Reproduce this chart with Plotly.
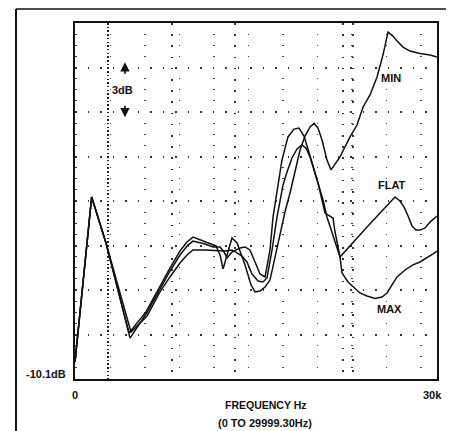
import plotly.graph_objects as go

# ---- data (frequency in kHz, level in dB) ----
min_khz = [0.0, 1.38, 2.57, 4.48, 5.88, 7.04, 7.87, 8.70, 9.28, 9.78, 10.77, 11.69, 12.02, 12.27,
           12.60, 13.01, 13.43, 14.09, 14.59, 14.92, 15.33, 15.75, 16.16, 16.57, 16.99, 17.40,
           17.82, 18.23, 18.65, 19.06, 19.48, 19.81, 20.14, 20.47, 20.88, 21.22, 21.96, 22.79,
           23.37, 23.87, 24.45, 25.03, 25.52, 25.94, 26.35, 26.69, 27.18, 27.76, 28.59, 29.42, 30.0]
min_db = [-8.95, 2.17, -0.93, -7.0, -5.58, -3.83, -2.62, -1.47, -0.86, -0.53, -0.86, -1.13, -1.74, -2.68,
          -1.74, -0.59, -0.93, -2.41, -3.76, -4.23, -4.17, -3.90, -3.43, -1.94, -0.26, 1.16,
          2.44, 3.86, 5.34, 6.28, 6.89, 7.13, 6.82, 6.01, 4.66, 4.0, 4.87, 6.22,
          7.02, 8.24, 9.05, 10.26, 11.74, 13.29, 13.02, 12.69, 12.28, 12.01, 11.84, 11.74, 11.61]

flat_khz = [0.0, 1.38, 2.57, 4.56, 5.88, 7.04, 7.87, 8.70, 9.36, 9.78, 10.77, 11.44, 12.02, 12.35,
            12.60, 13.01, 13.67, 14.09, 14.50, 14.92, 15.33, 15.75, 16.16, 16.41, 16.74, 17.15,
            17.65, 18.15, 18.56, 18.98, 19.48, 19.97, 20.55, 20.88, 21.38, 21.96, 24.20, 26.52,
            26.93, 27.26, 27.60, 27.93, 28.26, 28.59, 29.01, 29.42, 30.0]
flat_db = [-8.95, 2.17, -0.93, -7.34, -5.72, -3.97, -2.82, -1.74, -1.07, -0.80, -1.0, -1.20, -1.20, -1.54,
           -1.94, -1.54, -1.27, -1.20, -1.40, -2.21, -3.02, -3.22, -1.40, 0.82, 2.64, 4.66,
           6.22, 6.75, 6.82, 6.28, 4.93, 3.65, 1.97, 0.82, -0.46, -1.87, 0.15, 2.17,
           1.90, 1.50, 0.89, 0.21, -0.06, -0.06, 0.08, 0.48, 0.89]

max_khz = [0.0, 1.38, 2.57, 4.64, 5.97, 7.04, 7.87, 8.70, 9.28, 9.78, 10.77, 11.60, 12.43, 13.01,
           13.43, 13.84, 14.25, 14.67, 15.17, 15.58, 15.91, 16.33, 16.74, 17.24, 17.57, 17.98,
           18.40, 18.79, 19.14, 19.48, 20.14, 20.72, 21.38, 21.55, 21.96, 22.13, 22.62, 23.04,
           23.62, 24.20, 24.86, 25.44, 25.86, 26.27, 26.69, 27.35, 28.01, 28.59, 29.17, 29.67, 30.0]
max_db = [-8.95, 2.17, -0.93, -6.93, -5.85, -4.23, -3.22, -2.28, -1.74, -1.40, -1.40, -1.44, -1.47, -1.40,
          -1.61, -1.81, -2.21, -3.02, -3.49, -3.56, -3.29, -1.40, 0.82, 2.98, 3.86, 4.80,
          5.41, 5.68, 5.47, 4.87, 3.11, 1.09, 0.75, -0.19, -1.87, -2.95, -3.56, -3.90,
          -4.30, -4.50, -4.67, -4.57, -4.30, -3.76, -3.22, -2.75, -2.41, -2.21, -1.94, -1.67, -1.47]

series = [("MIN", min_khz, min_db), ("FLAT", flat_khz, flat_db), ("MAX", max_khz, max_db)]
label_pos = {"MIN": (26.19, 10.19), "FLAT": (26.27, 2.98), "MAX": (26.10, -5.38)}

x_range = [0.0, 29.9993]
y_range = [-10.1, 13.9]
y_major = [-7.1, -4.1, -1.1, 1.9, 4.9, 7.9, 10.9]
y_minor = [round(-10.1 + 0.75 * i, 2) for i in range(1, 32) if i % 4 != 0]
x_dense = [2.73]
x_cols = [8.0, 13.3, 22.2, 23.0]

FONT = "Liberation Sans, Arial, sans-serif"
INK = "#111111"

fig = go.Figure()
for name, xs, ys in series:
    fig.add_trace(go.Scatter(x=xs, y=ys, mode="lines", name=name,
                             line=dict(color=INK, width=1.5), showlegend=False))

# the page adds an 8px body margin, so the figure is 8px smaller than the window
fig.update_layout(
    width=446, height=423,
    margin=dict(l=67, r=17, t=15, b=52),
    paper_bgcolor="white", plot_bgcolor="white",
    font=dict(family=FONT, color=INK, size=11),
)
fig.update_xaxes(
    range=x_range, showline=True, mirror=True, linecolor=INK, linewidth=1.5,
    tickvals=x_dense, showticklabels=False, ticks="", zeroline=False,
    showgrid=True, gridcolor="#222222", gridwidth=1.5, griddash="1.5px,2.2px",
    minor=dict(tickvals=x_cols, showgrid=True, gridcolor="#333333", gridwidth=1.5,
               griddash="1.5px,9.7px", ticks=""),
)
fig.update_yaxes(
    range=y_range, showline=True, mirror=True, linecolor=INK, linewidth=1.5,
    tickvals=y_major, showticklabels=False, ticks="", zeroline=False,
    showgrid=True, gridcolor="#333333", gridwidth=1.5, griddash="1.5px,11px",
    minor=dict(tickvals=y_minor, showgrid=True, gridcolor="#444444", gridwidth=1.3,
               griddash="1.5px,33px", ticks=""),
)

ann = []
for name, (lx, ly) in label_pos.items():
    ann.append(dict(x=lx, y=ly, xref="x", yref="y", text="<b>" + name + "</b>",
                    showarrow=False, font=dict(size=11)))
ann += [
    dict(x=-0.02, y=0.015, xref="paper", yref="paper", text="<b>-10.1dB</b>",
         xanchor="right", yanchor="middle", showarrow=False, font=dict(size=11)),
    dict(x=0.0, y=-0.045, xref="paper", yref="paper", text="<b>0</b>",
         xanchor="center", yanchor="middle", showarrow=False, font=dict(size=11)),
    dict(x=1.018, y=-0.045, xref="paper", yref="paper", text="<b>30k</b>",
         xanchor="right", yanchor="middle", showarrow=False, font=dict(size=11)),
    dict(x=0.525, y=-0.072, xref="paper", yref="paper", text="<b>FREQUENCY Hz</b>",
         xanchor="center", yanchor="middle", showarrow=False, font=dict(size=10.5)),
    dict(x=0.525, y=-0.124, xref="paper", yref="paper", text="<b>(0 TO 29999.30Hz)</b>",
         xanchor="center", yanchor="middle", showarrow=False, font=dict(size=11)),
    dict(x=0.13, y=0.812, xref="paper", yref="paper", text="<b>3dB</b>",
         xanchor="center", yanchor="middle", showarrow=False, font=dict(size=11)),
    # 3 dB scale arrows
    dict(x=0.138, y=0.89, xref="paper", yref="paper", ax=0, ay=13, text="",
         showarrow=True, arrowhead=2, arrowsize=1.1, arrowwidth=1.7, arrowcolor=INK),
    dict(x=0.138, y=0.735, xref="paper", yref="paper", ax=0, ay=-13, text="",
         showarrow=True, arrowhead=2, arrowsize=1.1, arrowwidth=1.7, arrowcolor=INK),
]
fig.update_layout(annotations=ann)

# outer frame of the printed figure
fig.add_shape(type="line", xref="paper", yref="paper", x0=-0.163, y0=1.039, x1=1.05, y1=1.039,
              line=dict(color=INK, width=1.5))
fig.add_shape(type="line", xref="paper", yref="paper", x0=-0.163, y0=1.039, x1=-0.163, y1=-0.15,
              line=dict(color=INK, width=2))

fig.write_html("out.html")
